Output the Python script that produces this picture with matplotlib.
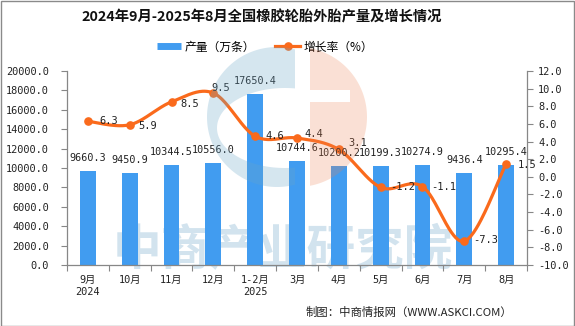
import numpy as np
import matplotlib
matplotlib.use("Agg")
import matplotlib.pyplot as plt
from matplotlib.path import Path
from matplotlib.patches import PathPatch, Rectangle
from matplotlib.lines import Line2D

plt.rcParams['axes.unicode_minus'] = False

# ---- data ----
months = ['9月\n2024', '10月', '11月', '12月', '1-2月\n2025', '3月', '4月',
          '5月', '6月', '7月', '8月']
output = [9660.3, 9450.9, 10344.5, 10556.0, 17650.4, 10744.6, 10200.2,
          10199.3, 10274.9, 9436.4, 10295.4]
growth = [6.3, 5.9, 8.5, 9.5, 4.6, 4.4, 3.1, -1.2, -1.1, -7.3, 1.5]

# label offsets (pixels) for the growth-rate annotations
growth_label_offsets = [(11, 0), (9, -1), (9, -2), (-2, 5), (10, 0), (7, 4),
                        (10, 6), (10, 0), (9, 0), (9, 1), (12, -1)]

W, H = 575, 326
BAR_BLUE = '#419cf0'
LINE_ORANGE = '#fa6a1c'
AXIS_GREY = '#878787'
MONO = ['DejaVu Sans Mono', 'Noto Sans CJK SC']
CJK = ['Noto Sans CJK SC', 'DejaVu Sans']

fig = plt.figure(figsize=(W / 100, H / 100), dpi=100)
fig.patch.set_facecolor('white')


def fx(px):
    return px / W


def fy(py):
    return 1 - py / H


def smooth_curve(xs, ys, n=40):
    """Cubic Bezier spline through the points (Catmull-Rom style)."""
    xs = np.asarray(xs, float)
    ys = np.asarray(ys, float)
    P = np.column_stack([xs, ys])
    out = []
    for i in range(len(P) - 1):
        p0 = P[i - 1] if i > 0 else P[i]
        p1, p2 = P[i], P[i + 1]
        p3 = P[i + 2] if i + 2 < len(P) else P[i + 1]
        c1 = p1 + (p2 - p0) / 6.0
        c2 = p2 - (p3 - p1) / 6.0
        t = np.linspace(0, 1, n)[:, None]
        seg = ((1 - t) ** 3) * p1 + 3 * ((1 - t) ** 2) * t * c1 \
            + 3 * (1 - t) * t ** 2 * c2 + t ** 3 * p2
        out.append(seg if i == 0 else seg[1:])
    c = np.vstack(out)
    return c[:, 0], c[:, 1]


# ---- watermark text (behind the chart) ----
fig.text(fx(283), fy(251), '中商产业研究院', family=CJK, fontweight='bold',
         fontsize=35, color='#d2e3ee', ha='center', va='center', zorder=-5)

# ---- axes ----
left, right, top, bottom = 67, 527, 71, 265
ax = fig.add_axes([fx(left), fy(bottom), fx(right - left), (bottom - top) / H])
ax.set_facecolor('none')
x = np.arange(len(months))
ax.bar(x, output, width=0.38, color=BAR_BLUE, zorder=2)
ax.set_xlim(-0.5, len(months) - 0.5)
ax.set_ylim(0, 20000)
ax.set_yticks(np.arange(0, 20001, 2000))
ax.set_yticklabels([f'{v:.1f}' for v in np.arange(0, 20001, 2000)])
ax.set_xticks(x)
ax.set_xticklabels(months, linespacing=1.15)
ax.set_xticks(np.arange(-0.5, len(months), 1.0), minor=True)
ax.tick_params(axis='x', which='major', length=0, pad=7.5)
ax.tick_params(axis='x', which='minor', length=4, color=AXIS_GREY, width=0.8)
ax.tick_params(axis='y', length=4, color=AXIS_GREY, width=0.8, pad=9)
for lab in ax.get_xticklabels() + ax.get_yticklabels():
    lab.set_family(MONO)
    lab.set_fontsize(7.4)
    lab.set_color('#222222')
for s in ['top', 'right']:
    ax.spines[s].set_visible(False)
for s in ['left', 'bottom']:
    ax.spines[s].set_color(AXIS_GREY)
    ax.spines[s].set_linewidth(0.9)

ax2 = ax.twinx()
ax2.set_facecolor('none')
ax2.set_ylim(-10, 12)
ax2.set_yticks(np.arange(-10, 12.1, 2))
ax2.set_yticklabels([f'{v:.1f}' for v in np.arange(-10, 12.1, 2)])
ax2.tick_params(axis='y', length=4, color=AXIS_GREY, width=0.8, pad=4)
for lab in ax2.get_yticklabels():
    lab.set_family(MONO)
    lab.set_fontsize(7.4)
    lab.set_color('#222222')
for s in ['top', 'left', 'bottom']:
    ax2.spines[s].set_visible(False)
ax2.spines['right'].set_color(AXIS_GREY)
ax2.spines['right'].set_linewidth(0.9)

sx, sy = smooth_curve(x, growth)
ax2.plot(sx, sy, color=LINE_ORANGE, lw=2.3, solid_capstyle='round', zorder=3)
ax2.plot(x, growth, 'o', color=LINE_ORANGE, ms=5.2, zorder=4)

# value labels sit above every mark
for xi, v in zip(x, output):
    ax2.annotate(f'{v:.1f}', (xi, v), xycoords=ax.transData,
                 xytext=(0, 9.4), textcoords='offset points',
                 ha='center', va='center', family=MONO, fontsize=7.3,
                 color='#222222', zorder=6)
for xi, v, (dx, dy) in zip(x, growth, growth_label_offsets):
    ax2.annotate(f'{v:.1f}', (xi, v), xytext=(dx * 0.72, dy * 0.72),
                 textcoords='offset points', ha='left', va='center',
                 family=MONO, fontsize=7.5, color='#222222', zorder=6)

# ---- title ----
fig.text(fx(262), fy(17), '2024年9月-2025年8月全国橡胶轮胎外胎产量及增长情况',
         family=CJK, fontweight='bold', fontsize=10.3, ha='center', va='center',
         color='#111111')

# ---- legend ----
handles = [Line2D([], [], color=BAR_BLUE, lw=5, solid_capstyle='butt'),
           Line2D([], [], color=LINE_ORANGE, lw=2.3, marker='o', ms=5.2)]
fig.legend(handles, ['产量（万条）', '增长率（%）'], loc='center',
           bbox_to_anchor=(fx(265), fy(47)), ncol=2, frameon=False,
           prop={'family': CJK, 'size': 8.5}, handlelength=2.1,
           handletextpad=0.3, columnspacing=1.7)

# ---- source note ----
fig.text(fx(512), fy(312), '制图：中商情报网（WWW.ASKCI.COM）', family=CJK,
         fontsize=8.2, ha='right', va='center', color='#222222')

# ---- logo watermark overlay ----
def to_fig(pts):
    return [(fx(px), fy(py)) for px, py in pts]


# blue "C"
cx, cy, r = 277, 117, 70
ecx, ecy, ea, eb = 285, 128, 68, 40
cut = 295
a_top = np.arctan2(-np.sqrt(r ** 2 - (cut - cx) ** 2), cut - cx)
a_bot = np.arctan2(np.sqrt(r ** 2 - (cut - cx) ** 2), cut - cx)
ang = np.linspace(a_top, a_top - (2 * np.pi - (a_bot - a_top)), 120)
outer = [(cx + r * np.cos(t), cy + r * np.sin(t)) for t in ang]
e_dy = eb * np.sqrt(1 - ((cut - ecx) / ea) ** 2)
e_bot = np.arctan2(e_dy / eb, (cut - ecx) / ea)
e_top = -e_bot
eang = np.linspace(e_bot, e_top + 2 * np.pi, 120)
inner = [(ecx + ea * np.cos(t), ecy + eb * np.sin(t)) for t in eang]
c_pts = outer + inner + [outer[0]]
fig.patches.append(PathPatch(Path(to_fig(c_pts), closed=True),
                             transform=fig.transFigure, facecolor='#6aa6c8',
                             edgecolor='none', alpha=0.28, zorder=20))

# orange half disc with notch
ocx, ocy, orr, ocut = 297, 117, 70, 310
oh = np.sqrt(orr ** 2 - (ocut - ocx) ** 2)
o_top = np.arctan2(-oh, ocut - ocx)
o_bot = np.arctan2(oh, ocut - ocx)
oang = np.linspace(o_top, o_bot, 120)
o_pts = [(ocx + orr * np.cos(t), ocy + orr * np.sin(t)) for t in oang]
o_pts += [(ocut, 102), (350, 102), (350, 90), (ocut, 90), o_pts[0]]
fig.patches.append(PathPatch(Path(to_fig(o_pts), closed=True),
                             transform=fig.transFigure, facecolor='#ee8050',
                             edgecolor='none', alpha=0.24, zorder=20))

# figure border
fig.patches.append(Rectangle((0.5 / W, 0.5 / H), 1 - 1.5 / W, 1 - 1.5 / H,
                             transform=fig.transFigure, fill=False,
                             edgecolor='#8a8a8a', lw=1.0, zorder=30))

fig.savefig('out.png', dpi=100, facecolor='white')
